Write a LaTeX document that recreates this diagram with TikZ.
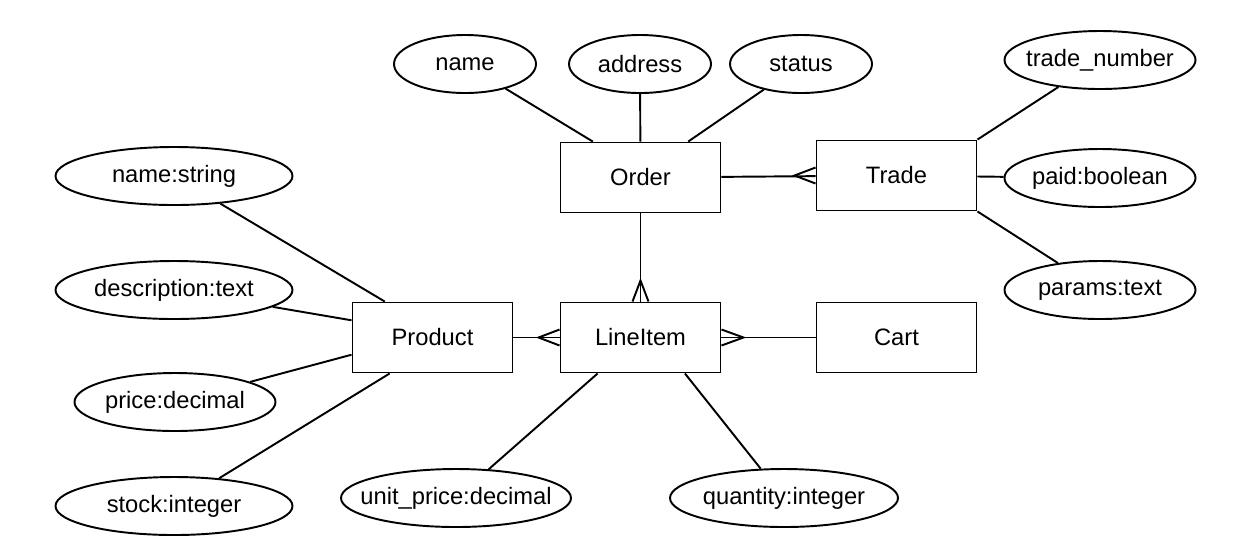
\documentclass[tikz,border=0pt]{standalone}
\usepackage{fontspec}
\setmainfont{Liberation Sans}
\usetikzlibrary{shapes.geometric}

\begin{document}
\begin{tikzpicture}[x=0.2mm,y=-0.2mm,
    font=\fontsize{13.5}{16}\selectfont,
    entity/.style={
% The shape:
rectangle,
% The size:
minimum width=32mm,
minimum height=14mm,
% The border:
line width=1.1pt, draw,
},
    attr/.style={
% The shape:
ellipse,
% The size:
minimum height=11.6mm,
minimum width=#1,
inner xsep=-10pt, inner ysep=0pt,
% The border:
line width=1.1pt, draw,
},
    link/.style={line width=1.1pt},
]
  \useasboundingbox (0,0) rectangle (1236,550);

  \node[entity]               (Order) at (640.5, 177.5) {Order};
  \node[entity]               (Trade) at (896.5, 175.5) {Trade};
  \node[entity]             (Product) at (432.5, 337.5) {Product};
  \node[entity]            (LineItem) at (640.5, 337.5) {LineItem};
  \node[entity]                (Cart) at (896.5, 337.5) {Cart};

  \node[attr=28.4mm]         (name) at (465, 64) {name};
  \node[attr=28.4mm]      (address) at (640, 64) {address};
  \node[attr=28.4mm]       (status) at (801, 64) {status};
  \node[attr=38.2mm]     (tradenum) at (1100, 60) {trade\_number};
  \node[attr=38.2mm]         (paid) at (1100, 178) {paid:boolean};
  \node[attr=38.2mm]       (params) at (1100, 290) {params:text};
  \node[attr=47.4mm]        (pname) at (174, 176) {name:string};
  \node[attr=47.4mm]         (desc) at (174, 290) {description:text};
  \node[attr=40.2mm]        (price) at (175, 402) {price:decimal};
  \node[attr=47.4mm]        (stock) at (174, 506) {stock:integer};
  \node[attr=46mm]      (unitprice) at (456, 498) {unit\_price:decimal};
  \node[attr=45.6mm]     (quantity) at (784, 498) {quantity:integer};

  \draw[link] (Order.143) -- (name);
  \draw[link] (Order) -- (address);
  \draw[link] (Order.37) -- (status);
  \draw[link] (Trade.north east) -- (tradenum);
  \draw[link] (Trade) -- (paid);
  \draw[link] (Trade.south east) -- (params);
  \draw[link] (Product.143) -- (pname);
  \draw[link] (Product.168) -- (desc);
  \draw[link] (Product.192) -- (price);
  \draw[link] (Product.220) -- (stock);
  \draw[link] (LineItem.220) -- (unitprice);
  \draw[link] (LineItem.321) -- (quantity);

  % relations
  \draw[link] (Order) -- (Trade);
  \draw[link] (Order) -- (LineItem);
  \draw[link] (Product) -- (LineItem);
  \draw[link] (LineItem) -- (Cart);
  % crow's feet
  \draw[link] (Trade.west) ++(0,-8) -- ++(-21,8) -- ++(21,8);
  \draw[link] (LineItem.north) ++(-8,0) -- ++(8,-21) -- ++(8,21);
  \draw[link] (LineItem.west) ++(0,-8) -- ++(-21,8) -- ++(21,8);
  \draw[link] (LineItem.east) ++(0,-8) -- ++(22,8) -- ++(-22,8);

\end{tikzpicture}
\end{document}
